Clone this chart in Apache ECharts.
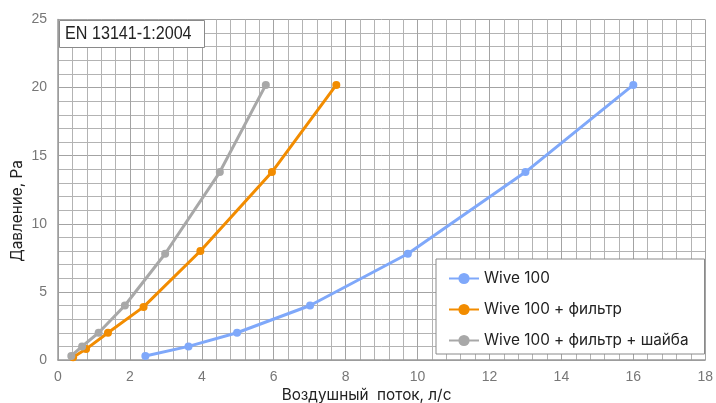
<!DOCTYPE html>
<html>
<head>
<meta charset="utf-8">
<script src="https://cdn.jsdelivr.net/npm/echarts@6/dist/echarts.min.js"></script>
<style>html,body{margin:0;padding:0;background:#fff}#c{width:716px;height:403px}</style>
</head>
<body>
<div id="c"></div>
<script>
const seriesNames = ['Wive 100', 'Wive 100 + фильтр', 'Wive 100 + фильтр + шайба'];
const wiveFlow = [2.43, 3.63, 4.98, 7.01, 9.73, 13.0, 16.0];
const wivePressure = [0.3, 1.0, 2.0, 4.0, 7.8, 13.8, 20.2];
const filterFlow = [0.42, 0.78, 1.39, 2.38, 3.96, 5.95, 7.74];
const filterPressure = [0.2, 0.8, 2.0, 3.9, 8.0, 13.8, 20.2];
const washerFlow = [0.37, 0.67, 1.13, 1.86, 2.98, 4.5, 5.78];
const washerPressure = [0.3, 1.0, 2.0, 4.0, 7.8, 13.8, 20.2];
const xTicks = [0, 2, 4, 6, 8, 10, 12, 14, 16, 18];
const yTicks = [0, 5, 10, 15, 20, 25];
const standardLabel = 'EN 13141-1:2004';
const xName = 'Воздушный  поток, л/с';
const yName = 'Давление, Pa';

const pairs = (xs, ys) => xs.map((x, i) => [x, ys[i]]);
const colors = ['#7FA8FA', '#F28C00', '#A8A8A8'];
const font = 'Liberation Sans, Arial, sans-serif';
const font2 = 'Inter, Liberation Sans, sans-serif';

const chart = echarts.init(document.getElementById('c'), null, {renderer: 'canvas'});
const mk = (name, data, color, z) => ({
  name, type: 'line', data, z,
  symbol: 'circle', symbolSize: 8,
  lineStyle: {width: 3, color},
  itemStyle: {color},
  smooth: false
});
chart.setOption({
  animation: false,
  backgroundColor: '#fff',
  grid: {left: 58, right: 8, top: 19.5, bottom: 43, containLabel: false},
  xAxis: {
    type: 'value', min: xTicks[0], max: xTicks[xTicks.length - 1], interval: 2,
    axisLine: {show: true, lineStyle: {color: '#9a9a9a', width: 1.5}},
    axisTick: {show: false},
    axisLabel: {color: '#777', fontSize: 14, fontFamily: font, margin: 10},
    splitLine: {show: true, lineStyle: {color: '#a3a3a3', width: 1}},
    minorTick: {show: false, splitNumber: 5},
    minorSplitLine: {show: true, lineStyle: {color: '#b3b3b3', width: 1}}
  },
  yAxis: {
    type: 'value', min: yTicks[0], max: yTicks[yTicks.length - 1], interval: 5,
    axisLine: {show: true, lineStyle: {color: '#9a9a9a', width: 1.5}},
    axisTick: {show: false},
    axisLabel: {color: '#777', fontSize: 14, fontFamily: font, margin: 11},
    splitLine: {show: true, lineStyle: {color: '#a3a3a3', width: 1}},
    minorTick: {show: false, splitNumber: 5},
    minorSplitLine: {show: true, lineStyle: {color: '#b3b3b3', width: 1}}
  },
  legend: {
    orient: 'vertical', left: 436, top: 259,
    backgroundColor: '#fff', borderColor: '#8a8a8a', borderWidth: 1,
    padding: [12, 16, 6, 12], itemGap: 16, itemWidth: 30, itemHeight: 14,
    textStyle: {color: '#222', fontSize: 15.3, fontFamily: font2},
    data: seriesNames
  },
  graphic: [
    {type: 'rect', left: 59, top: 20, z: 100,
     shape: {width: 145, height: 27},
     style: {fill: '#fff', stroke: '#8a8a8a', lineWidth: 1}},
    {type: 'text', x: 65, y: 33.5, scaleX: 0.85, z: 101,
     style: {text: standardLabel, fill: '#222', font: '19px ' + font, align: 'left', verticalAlign: 'middle'}},
    {type: 'text', x: 366.5, y: 395, z: 101,
     style: {text: xName, fill: '#222', font: '15.3px ' + font2, align: 'center', verticalAlign: 'middle'}},
    {type: 'text', x: 17, y: 211, rotation: Math.PI / 2, z: 101,
     style: {text: yName, fill: '#222', font: '15.3px ' + font2, align: 'center', verticalAlign: 'middle'}}
  ],
  series: [
    mk(seriesNames[0], pairs(wiveFlow, wivePressure), colors[0], 2),
    mk(seriesNames[1], pairs(filterFlow, filterPressure), colors[1], 3),
    mk(seriesNames[2], pairs(washerFlow, washerPressure), colors[2], 4)
  ]
});
</script>
</body>
</html>
